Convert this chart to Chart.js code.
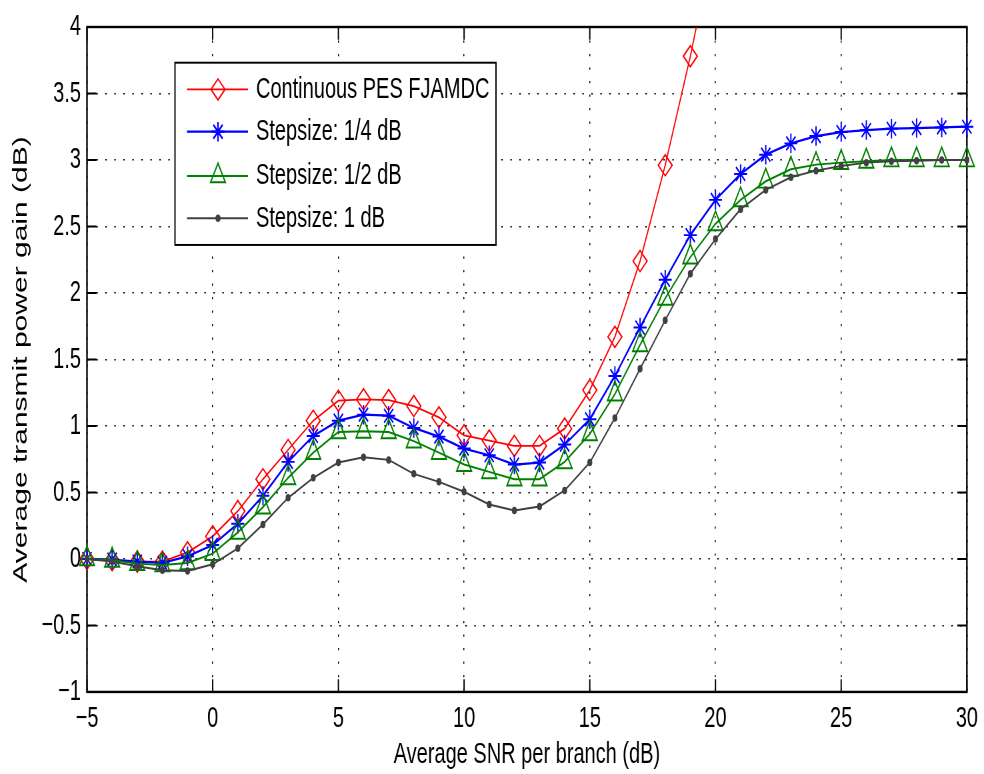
<!DOCTYPE html>
<html>
<head>
<meta charset="utf-8">
<script src="https://cdn.jsdelivr.net/npm/chart.js@4.4.1/dist/chart.umd.min.js"></script>
<style>
body { margin: 0; background: #fff; }
canvas { display: block; }
</style>
</head>
<body>
<canvas id="chart" width="984" height="516"></canvas>
<script>
var snr = [-5,-4,-3,-2,-1,0,1,2,3,4,5,6,7,8,9,10,11,12,13,14,15,16,17,18,19,20,21,22,23,24,25,26,27,28,29,30]

// continuous curve leaves the plot after 19 dB
var continuous = [0.0,-0.01,-0.02,-0.02,0.05,0.17,0.36,0.6,0.82,1.04,1.19,1.2,1.195,1.15,1.065,0.93,0.89,0.85,0.85,0.98,1.27,1.67,2.24,2.96,3.78,4.7]
var step_quarter = [0.0,-0.005,-0.02,-0.03,0.02,0.105,0.265,0.475,0.73,0.925,1.04,1.085,1.077,0.985,0.92,0.83,0.78,0.71,0.725,0.86,1.05,1.375,1.74,2.1,2.435,2.7,2.895,3.04,3.125,3.18,3.21,3.225,3.235,3.24,3.245,3.25]
var step_half = [0.0,-0.01,-0.035,-0.045,-0.03,0.04,0.2,0.39,0.61,0.8,0.955,0.96,0.955,0.886,0.8,0.71,0.655,0.6,0.6,0.73,0.94,1.24,1.61,1.96,2.27,2.52,2.7,2.84,2.93,2.965,2.98,2.99,3.0,3.0,3.0,3.0]
var step_one = [0.0,-0.02,-0.055,-0.085,-0.09,-0.04,0.08,0.26,0.46,0.61,0.725,0.765,0.745,0.64,0.58,0.505,0.41,0.365,0.395,0.515,0.725,1.06,1.43,1.795,2.145,2.405,2.63,2.775,2.87,2.92,2.955,2.98,2.99,2.995,3.0,3.0]

var series_names = ['Continuous PES FJAMDC','Stepsize: 1/4 dB','Stepsize: 1/2 dB','Stepsize: 1 dB']
var x_ticks = [-5,0,5,10,15,20,25,30]
var y_ticks = [-1,-0.5,0,0.5,1,1.5,2,2.5,3,3.5,4]

function to_points(values){
    return values.map((v,i)=>({x: snr[i], y: v}))
}

function tick_label(v){
    return v < 0 ? '\u2212' + Math.abs(v) : String(v)
}

Chart.defaults.font.family = "'Liberation Sans', Arial, sans-serif"
Chart.defaults.font.size = 20
Chart.defaults.color = '#000'

// markers at the edges may hang over the left/right axis, but not over the top
var side_clip = {left: 12, right: 12, top: 0, bottom: 0}

// box round the axes with matlab style inward ticks
var frame_plugin = {
    id: 'frame',
    beforeDatasetsDraw(chart){
        let ctx = chart.ctx, a = chart.chartArea
        let xs = chart.scales.x, ys = chart.scales.y
        ctx.save()
        ctx.strokeStyle = '#000'
        ctx.lineWidth = 1.6
        ctx.strokeRect(a.left, a.top, a.right-a.left, a.bottom-a.top)
        ctx.lineWidth = 1.3
        ctx.beginPath()
        xs.ticks.forEach(t=>{
            let px = xs.getPixelForValue(t.value)
            ctx.moveTo(px, a.bottom); ctx.lineTo(px, a.bottom-8.5)
            ctx.moveTo(px, a.top); ctx.lineTo(px, a.top+8.5)
        })
        ys.ticks.forEach(t=>{
            let py = ys.getPixelForValue(t.value)
            ctx.moveTo(a.left, py); ctx.lineTo(a.left+9.5, py)
            ctx.moveTo(a.right, py); ctx.lineTo(a.right-9.5, py)
        })
        ctx.stroke()
        ctx.restore()
    }
}

// legend box inside the plot, top left
var legend_plugin = {
    id: 'boxlegend',
    afterDatasetsDraw(chart){
        let ctx = chart.ctx
        let box = {x: 175, y: 41.8, w: 321, h: 121.5}
        let rows = [59.6, 87.8, 117.3, 145.5]
        ctx.save()
        ctx.fillStyle = '#fff'
        ctx.fillRect(box.x, box.y, box.w, box.h)
        ctx.strokeStyle = '#000'
        ctx.lineWidth = 1.3
        ctx.strokeRect(box.x, box.y, box.w, box.h)
        chart.data.datasets.forEach((ds,i)=>{
            let y = rows[i]
            ctx.strokeStyle = ds.borderColor
            ctx.lineWidth = ds.borderWidth
            ctx.beginPath()
            ctx.moveTo(187, y)
            ctx.lineTo(248, y)
            ctx.stroke()
            ctx.fillStyle = ds.pointBackgroundColor
            Chart.helpers.drawPoint(ctx, {
                pointStyle: ds.pointStyle,
                radius: ds.pointRadius,
                borderWidth: ds.pointBorderWidth,
                rotation: 0
            }, 218, y)
            ctx.fillStyle = '#000'
            ctx.font = "20px 'Liberation Sans', Arial, sans-serif"
            ctx.textBaseline = 'middle'
            ctx.textAlign = 'left'
            ctx.fillText(ds.label, 256, y)
        })
        ctx.restore()
    }
}

var canvas = document.getElementById('chart')
var ctx = canvas.getContext('2d')
var chart = new Chart(ctx, {
    type: 'line',
    data: {
        datasets: [{
            label: series_names[0],
            data: to_points(continuous),
            borderColor: '#ff0000',
            borderWidth: 1.2,
            pointStyle: 'rectRot',
            pointRadius: 7,
            pointBorderWidth: 1.2,
            pointBorderColor: '#ff0000',
            pointBackgroundColor: 'rgba(0,0,0,0)',
            clip: side_clip,
            order: 3
        },{
            label: series_names[1],
            data: to_points(step_quarter),
            borderColor: '#0000ff',
            borderWidth: 1.5,
            pointStyle: 'star',
            pointRadius: 6.5,
            pointBorderWidth: 1.3,
            pointBorderColor: '#0000ff',
            pointBackgroundColor: 'rgba(0,0,0,0)',
            clip: side_clip,
            order: 2
        },{
            label: series_names[2],
            data: to_points(step_half),
            borderColor: '#008000',
            borderWidth: 1.3,
            pointStyle: 'triangle',
            pointRadius: 8.5,
            pointBorderWidth: 1.3,
            pointBorderColor: '#008000',
            pointBackgroundColor: 'rgba(0,0,0,0)',
            clip: side_clip,
            order: 1
        },{
            label: series_names[3],
            data: to_points(step_one),
            borderColor: '#404040',
            borderWidth: 1.3,
            pointStyle: 'circle',
            pointRadius: 2.5,
            pointBorderWidth: 0,
            pointBorderColor: '#404040',
            pointBackgroundColor: '#404040',
            clip: side_clip,
            order: 0
        }]
    },
    options: {
        responsive: false,
        devicePixelRatio: 1.5,
        animation: false,
        layout: { padding: {top: 9.3, right: 17, left: 0, bottom: 0} },
        plugins: {
            legend: { display: false },
            tooltip: { enabled: false }
        },
        elements: { line: { tension: 0, fill: false } },
        scales: {
            x: {
                type: 'linear',
                min: -5, max: 30,
                afterBuildTicks: axis => { axis.ticks = x_ticks.map(v=>({value: v})) },
                afterFit: axis => { axis.height = 54.7 },
                ticks: { padding: 6, maxRotation: 0, callback: tick_label },
                grid: { color: '#000', lineWidth: 1, drawTicks: false },
                border: { display: false, dash: [1.5, 7.5] },
                title: { display: true, text: 'Average SNR per branch (dB)', padding: {top: 0, bottom: 0.7} }
            },
            y: {
                type: 'linear',
                min: -1, max: 4,
                afterBuildTicks: axis => { axis.ticks = y_ticks.map(v=>({value: v})) },
                afterFit: axis => { axis.width = 87 },
                ticks: { padding: 6, callback: tick_label },
                grid: { color: '#000', lineWidth: 1, drawTicks: false },
                border: { display: false, dash: [1.5, 7.5] },
                title: { display: true, text: 'Average transmit power gain (dB)', padding: {top: 9, bottom: 0} }
            }
        }
    },
    plugins: [frame_plugin, legend_plugin]
})

// the figure is stretched 1.5x vertically: 516 drawn rows shown as 774
canvas.style.width = '984px'
canvas.style.height = '774px'
</script>
</body>
</html>
